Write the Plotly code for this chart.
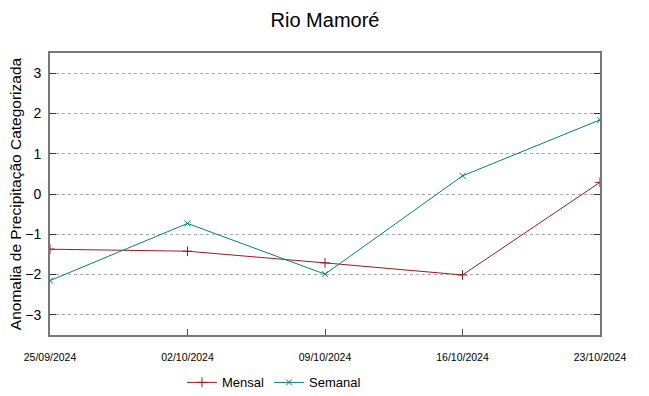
import plotly.graph_objects as go

dates = ["2024-09-25", "2024-10-02", "2024-10-09", "2024-10-16", "2024-10-23"]
tick_labels = ["25/09/2024", "02/10/2024", "09/10/2024", "16/10/2024", "23/10/2024"]
mensal = [-1.37, -1.42, -1.71, -2.01, 0.29]
semanal = [-2.15, -0.73, -1.99, 0.45, 1.84]
y_ticks = [-3, -2, -1, 0, 1, 2, 3]

fig = go.Figure()
fig.add_trace(go.Scatter(x=dates, y=mensal, name="Mensal", mode="lines+markers",
                         line=dict(color="#a0191e", width=1),
                         marker=dict(symbol="cross-thin", size=7, line=dict(color="#a0191e", width=1))))
fig.add_trace(go.Scatter(x=dates, y=semanal, name="Semanal", mode="lines+markers",
                         line=dict(color="#008080", width=1),
                         marker=dict(symbol="x-thin", size=6, line=dict(color="#008080", width=1))))

fig.update_layout(
    width=649, height=396,
    paper_bgcolor="white", plot_bgcolor="white",
    margin=dict(l=50, r=49, t=53, b=61, autoexpand=False),
    font=dict(family="Liberation Sans", color="black"),
    title=dict(text="Rio Mamoré", x=0.5, xanchor="center", xref="paper",
               y=1 - 20 / 396, yref="container", yanchor="middle", automargin=False,
               font=dict(size=20, family="Liberation Sans")),
    showlegend=True,
    legend=dict(orientation="h", x=0.24, xanchor="left", y=-0.115, yanchor="top",
                font=dict(size=13, family="Liberation Sans"),
                itemwidth=30, bgcolor="rgba(0,0,0,0)"),
    xaxis=dict(type="date", range=["2024-09-25", "2024-10-23"], tickvals=dates, ticktext=tick_labels,
               ticks="inside", ticklen=6, tickcolor="#555", showgrid=False, zeroline=False,
               showline=True, linecolor="#777", linewidth=2, mirror=True, automargin=False,
               tickfont=dict(size=10.5, family="Liberation Sans"),
               ticklabelstandoff=11),
    yaxis=dict(range=[-3.5, 3.5], tickvals=y_ticks, ticks="inside", ticklen=6, tickcolor="#333",
               showgrid=True, gridcolor="#aaaaaa", griddash="dot", gridwidth=1, zeroline=False,
               showline=True, linecolor="#777", linewidth=2, mirror="allticks", automargin=False,
               tickfont=dict(size=14), ticklabelstandoff=4,
               title=dict(text="Anomalia de Precipitação Categorizada",
                          font=dict(size=15.5), standoff=0)),
)

fig.write_html("out.html", post_script="document.body.style.margin='0';",
               config={"displayModeBar": False})
